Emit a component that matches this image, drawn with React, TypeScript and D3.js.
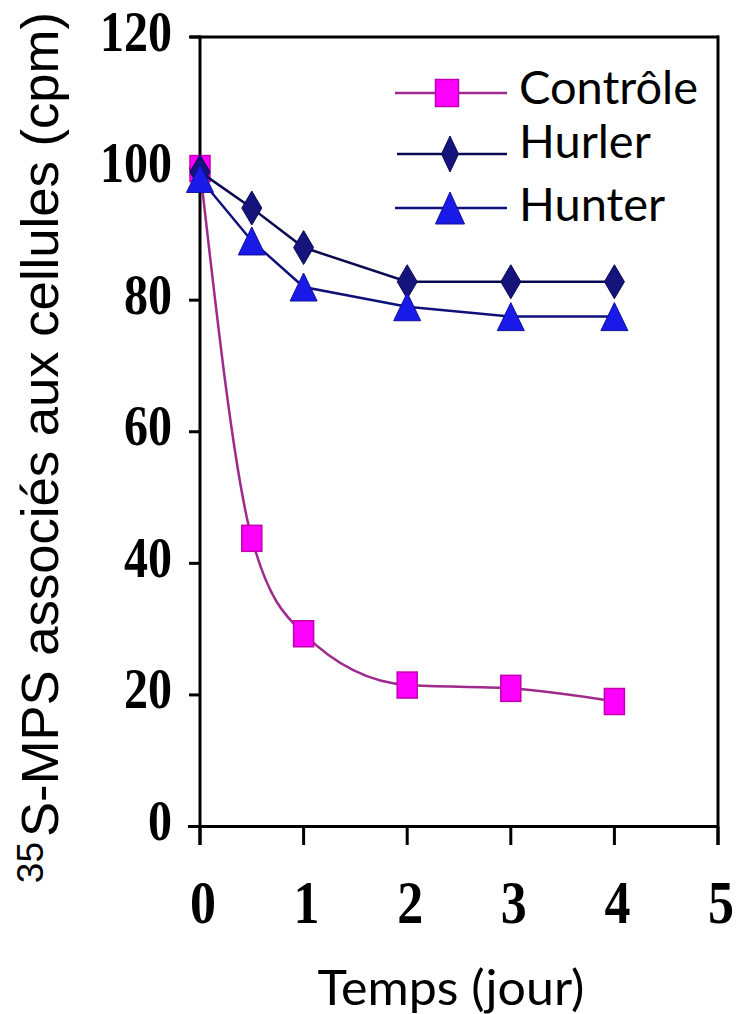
import React from 'react';
import * as d3 from 'd3';

// valeurs
const jours = [0, 0.5, 1, 2, 3, 4];
const controle = [100, 43.8, 29.3, 21.5, 21, 19];
const hurler = [99.5, 94, 88, 82.8, 82.8, 82.8];
const hunter = [98.5, 89, 82, 79, 77.5, 77.5];
const xTicks = [0, 1, 2, 3, 4, 5];
const yTicks = [0, 20, 40, 60, 80, 100, 120];
const legendLabels = ['Contrôle', 'Hurler', 'Hunter'];

const W = 736;
const H = 1014;

const x = d3.scaleLinear().domain([0, 5]).range([200, 718]);
const y = d3.scaleLinear().domain([0, 120]).range([826.5, 37]);

const tickFont = '"Liberation Serif", "Times New Roman", serif';
const textFont = 'Lato, "Noto Sans", sans-serif';
const titleFont = '"Liberation Sans", Arial, sans-serif';

const Square = ({ cx, cy, w = 20, h = 26 }: any) => (
  <rect x={cx - w / 2} y={cy - h / 2} width={w} height={h} fill="#ff00ff" stroke="#c000b0" strokeWidth={1.5} />
);

const Diamond = ({ cx, cy, w = 20, h = 34 }: any) => (
  <polygon
    points={`${cx},${cy - h / 2} ${cx + w / 2},${cy} ${cx},${cy + h / 2} ${cx - w / 2},${cy}`}
    fill="#14147c"
    stroke="#0a0a55"
    strokeWidth={1}
  />
);

const Triangle = ({ cx, cy, w = 27, h = 28 }: any) => (
  <polygon
    points={`${cx},${cy - h / 2} ${cx + w / 2},${cy + h / 2} ${cx - w / 2},${cy + h / 2}`}
    fill="#1a1ae8"
    stroke="#10109a"
    strokeWidth={1}
  />
);

export default function App() {
  const pts = (vals: number[]) => jours.map((j, i) => [x(j), y(vals[i])] as [number, number]);

  const smooth = d3.line().curve(d3.curveMonotoneX);
  const straight = d3.line();

  const pC = pts(controle);
  const pHu = pts(hurler);
  const pHn = pts(hunter);

  // légende
  const legY = [93, 154, 208];
  const legBase = [104, 158, 221];

  return (
    <svg width={W} height={H} style={{ position: 'absolute', left: 0, top: 0, background: '#fff' }}>
      {/* cadre */}
      <g stroke="#000" strokeWidth={3} fill="none">
        <line x1={190} x2={719} y1={y(120)} y2={y(120)} />
        <line x1={188} x2={719} y1={826.5} y2={826.5} />
        <line x1={200} x2={200} y1={y(120) - 1.5} y2={845} />
        <line x1={718} x2={718} y1={y(120) - 1.5} y2={845} />
        {yTicks.map(t => (
          <line key={'yt' + t} x1={189} x2={200} y1={y(t)} y2={y(t)} />
        ))}
        {xTicks.map(t => (
          <line key={'xt' + t} x1={x(t)} x2={x(t)} y1={826.5} y2={845} />
        ))}
      </g>

      {/* graduations */}
      {yTicks.map(t => (
        <g key={'yl' + t} transform={`translate(172,${y(t) + 13.5}) scale(1,1.2)`}>
          <text textAnchor="end" fontFamily={tickFont} fontWeight="bold" fontSize={48} fill="#000">
            {t}
          </text>
        </g>
      ))}
      {xTicks.map(t => (
        <g key={'xl' + t} transform={`translate(${x(t) + 3},923) scale(1,1.18)`}>
          <text textAnchor="middle" fontFamily={tickFont} fontWeight="bold" fontSize={52} fill="#000">
            {t}
          </text>
        </g>
      ))}

      {/* séries */}
      <path d={smooth(pC) || ''} fill="none" stroke="#9e2b8c" strokeWidth={2.5} />
      {pC.map(([cx, cy], i) => (
        <Square key={'c' + i} cx={cx} cy={cy} />
      ))}
      <path d={straight(pHu) || ''} fill="none" stroke="#0a0a50" strokeWidth={2.5} />
      {pHu.map(([cx, cy], i) => (
        <Diamond key={'h' + i} cx={cx} cy={cy} />
      ))}
      <path d={straight(pHn) || ''} fill="none" stroke="#10107a" strokeWidth={2.5} />
      {pHn.map(([cx, cy], i) => (
        <Triangle key={'t' + i} cx={cx} cy={cy} />
      ))}

      {/* légende */}
      <line x1={395} x2={507} y1={legY[0]} y2={legY[0]} stroke="#9e2b8c" strokeWidth={2.5} />
      <Square cx={447} cy={legY[0]} w={23} h={27} />
      <line x1={397} x2={507} y1={legY[1]} y2={legY[1]} stroke="#0a0a50" strokeWidth={2.5} />
      <Diamond cx={450} cy={legY[1]} w={17} h={36} />
      <line x1={395} x2={507} y1={legY[2]} y2={legY[2]} stroke="#10107a" strokeWidth={2.5} />
      <Triangle cx={450} cy={legY[2]} w={29} h={32} />
      {legendLabels.map((l, i) => (
        <text key={l} x={519} y={legBase[i]} fontFamily={textFont} fontSize={47} fill="#000">
          {l}
        </text>
      ))}

      {/* titres */}
      <text x={451} y={1005} textAnchor="middle" fontFamily={textFont} fontSize={49} fill="#000" textLength={267} lengthAdjust="spacingAndGlyphs">
        Temps (jour)
      </text>
      <g transform="translate(58,837) rotate(-90)">
        <text x={0} y={0} fontFamily={titleFont} fontSize={52} fill="#000" textLength={825} lengthAdjust="spacingAndGlyphs">
          S-MPS associés aux cellules (cpm)
        </text>
        <text x={-5} y={-15} textAnchor="end" fontFamily={titleFont} fontSize={37} fill="#000">
          35
        </text>
      </g>
    </svg>
  );
}
